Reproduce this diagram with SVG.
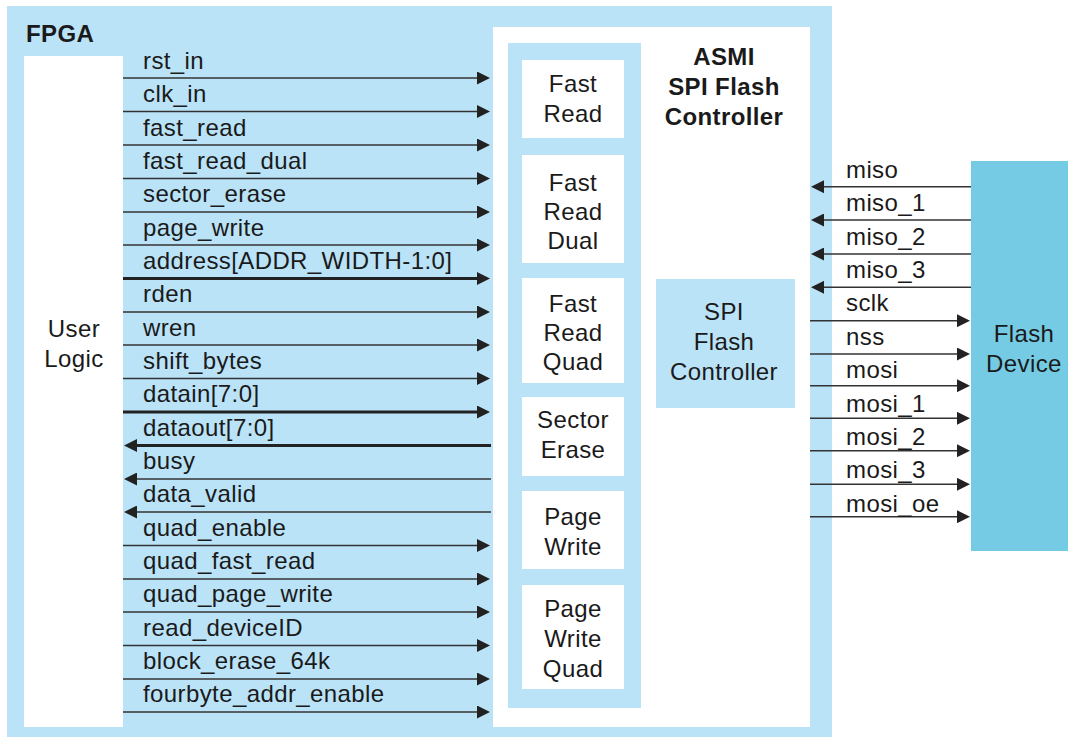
<svg xmlns="http://www.w3.org/2000/svg" width="1068" height="738" viewBox="0 0 1068 738">
<style>
text{font-family:"Liberation Sans",Arial,sans-serif;font-size:24px;fill:#1a1a1a;letter-spacing:0.4px}
.b{font-weight:bold}
.c{text-anchor:middle}
.lb{fill:#BAE3F8}
.wh{fill:#FFFFFF}
.dev{fill:#75CBE3}
.w{stroke:#333;stroke-width:1.4;fill:none}
.t{stroke:#222;stroke-width:3;fill:none}
.r{marker-end:url(#ah)}
</style>
<defs>
<marker id="ah" viewBox="0 0 13 13" refX="7" refY="6.5" markerWidth="13" markerHeight="13" orient="auto" markerUnits="userSpaceOnUse">
<path d="M0,0 L13,6.5 L0,13 z" fill="#222"/>
</marker>
</defs>
<g id="fpga">
<rect class="lb" x="7" y="6" width="825" height="731"/>
<text class="b" x="26" y="42">FPGA</text>
</g>
<g id="user-logic">
<rect class="wh" x="24" y="56" width="99" height="671"/>
<text class="c" x="74" y="337">User</text>
<text class="c" x="74" y="367">Logic</text>
</g>
<g id="asmi">
<rect class="wh" x="493" y="27" width="317" height="700"/>
<rect class="lb" x="508" y="43" width="133" height="665"/>
<text class="b c" x="724" y="65">ASMI</text>
<text class="b c" x="724" y="95">SPI Flash</text>
<text class="b c" x="724" y="125">Controller</text>
</g>
<g id="fast-read">
<rect class="wh" x="522" y="60" width="102" height="78"/>
<text class="c" x="573" y="92">Fast</text>
<text class="c" x="573" y="122">Read</text>
</g>
<g id="fast-read-dual">
<rect class="wh" x="522" y="155" width="102" height="108"/>
<text class="c" x="573" y="191">Fast</text>
<text class="c" x="573" y="220">Read</text>
<text class="c" x="573" y="249">Dual</text>
</g>
<g id="fast-read-quad">
<rect class="wh" x="522" y="278" width="102" height="105"/>
<text class="c" x="573" y="312">Fast</text>
<text class="c" x="573" y="341">Read</text>
<text class="c" x="573" y="370">Quad</text>
</g>
<g id="sector-erase">
<rect class="wh" x="522" y="397" width="102" height="79"/>
<text class="c" x="573" y="428">Sector</text>
<text class="c" x="573" y="458">Erase</text>
</g>
<g id="page-write">
<rect class="wh" x="522" y="491" width="102" height="78"/>
<text class="c" x="573" y="525">Page</text>
<text class="c" x="573" y="555">Write</text>
</g>
<g id="page-write-quad">
<rect class="wh" x="522" y="585" width="102" height="104"/>
<text class="c" x="573" y="617">Page</text>
<text class="c" x="573" y="647">Write</text>
<text class="c" x="573" y="677">Quad</text>
</g>
<g id="spi-flash-controller">
<rect class="lb" x="656" y="279" width="139" height="129"/>
<text class="c" x="724" y="320">SPI</text>
<text class="c" x="724" y="350">Flash</text>
<text class="c" x="724" y="380">Controller</text>
</g>
<g id="flash-device">
<rect class="dev" x="971" y="161" width="97" height="390"/>
<text class="c" x="1024" y="342">Flash</text>
<text class="c" x="1024" y="372">Device</text>
</g>
<g id="connectors">
<path class="w r" d="M123,78H484"/>
<path class="w r" d="M123,111.5H484"/>
<path class="w r" d="M123,145H484"/>
<path class="w r" d="M123,178.5H484"/>
<path class="w r" d="M123,212H484"/>
<path class="w r" d="M123,245H484"/>
<path class="t r" d="M123,278.5H484"/>
<path class="w r" d="M123,312H484"/>
<path class="w r" d="M123,345H484"/>
<path class="w r" d="M123,378.5H484"/>
<path class="t r" d="M123,412H484"/>
<path class="t r" d="M491,445.5H130"/>
<path class="w r" d="M491,479H130"/>
<path class="w r" d="M491,512H130"/>
<path class="w r" d="M123,545.5H484"/>
<path class="w r" d="M123,579H484"/>
<path class="w r" d="M123,612H484"/>
<path class="w r" d="M123,645.5H484"/>
<path class="w r" d="M123,679H484"/>
<path class="w r" d="M123,712H484"/>
<path class="w r" d="M971,186.7H817"/>
<path class="w r" d="M971,220H817"/>
<path class="w r" d="M971,254H817"/>
<path class="w r" d="M971,287.3H817"/>
<path class="w r" d="M810,320.7H964"/>
<path class="w r" d="M810,354H964"/>
<path class="w r" d="M810,385.7H964"/>
<path class="w r" d="M810,418.3H964"/>
<path class="w r" d="M810,450.7H964"/>
<path class="w r" d="M810,484.3H964"/>
<path class="w r" d="M810,516.7H964"/>
</g>
<g id="signal-labels">
<text x="143" y="69">rst_in</text>
<text x="143" y="102.3">clk_in</text>
<text x="143" y="135.6">fast_read</text>
<text x="143" y="169">fast_read_dual</text>
<text x="143" y="202.3">sector_erase</text>
<text x="143" y="235.6">page_write</text>
<text x="143" y="269">address[ADDR_WIDTH-1:0]</text>
<text x="143" y="302.3">rden</text>
<text x="143" y="335.6">wren</text>
<text x="143" y="369">shift_bytes</text>
<text x="143" y="402.3">datain[7:0]</text>
<text x="143" y="435.6">dataout[7:0]</text>
<text x="143" y="469">busy</text>
<text x="143" y="502.3">data_valid</text>
<text x="143" y="535.6">quad_enable</text>
<text x="143" y="569">quad_fast_read</text>
<text x="143" y="602.3">quad_page_write</text>
<text x="143" y="635.6">read_deviceID</text>
<text x="143" y="669">block_erase_64k</text>
<text x="143" y="702.3">fourbyte_addr_enable</text>
<text x="846" y="178">miso</text>
<text x="846" y="211">miso_1</text>
<text x="846" y="244.5">miso_2</text>
<text x="846" y="278">miso_3</text>
<text x="846" y="311">sclk</text>
<text x="846" y="345">nss</text>
<text x="846" y="378">mosi</text>
<text x="846" y="411.5">mosi_1</text>
<text x="846" y="445">mosi_2</text>
<text x="846" y="478">mosi_3</text>
<text x="846" y="511.5">mosi_oe</text>
</g>
</svg>
